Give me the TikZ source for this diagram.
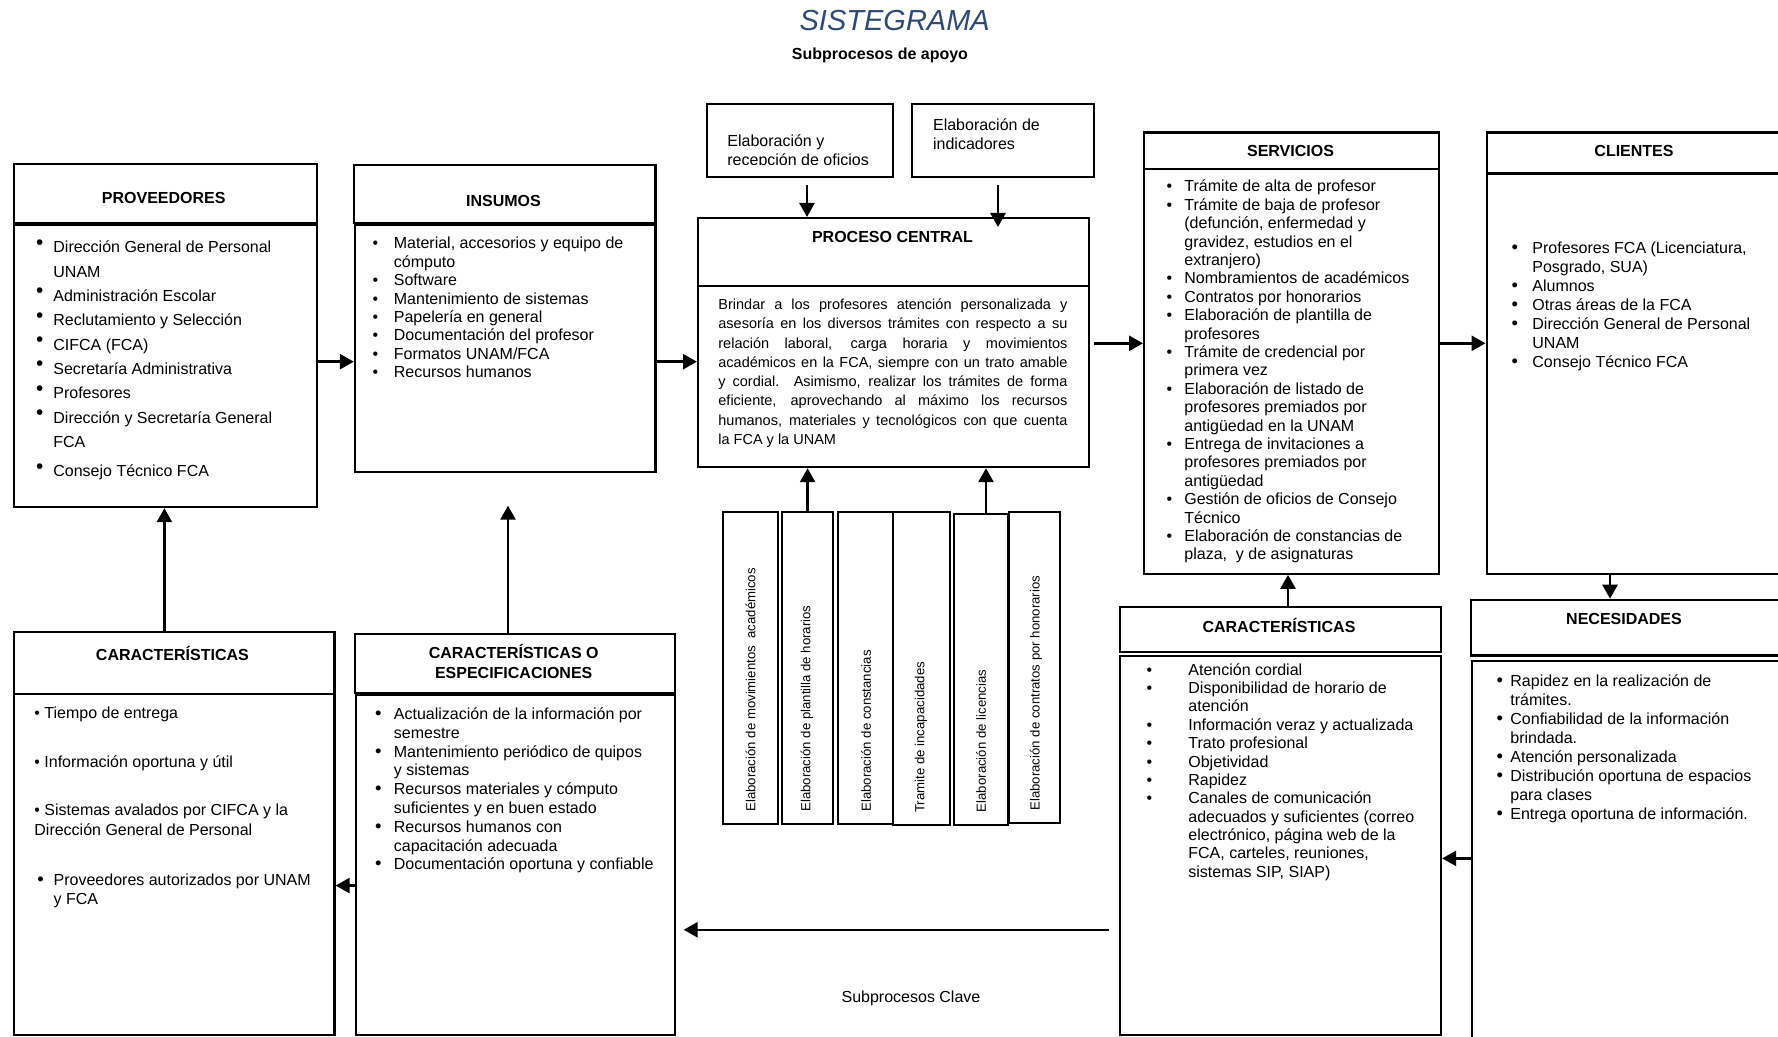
\documentclass[tikz,border=0pt]{standalone}
\usepackage{fontspec}
\setmainfont{Liberation Sans}
\usepackage{graphicx}
\usetikzlibrary{arrows.meta}
\definecolor{titleblue}{RGB}{47,74,118}

% bullet lists with a hanging indent: \B starts an item, \C continues it
\newlength\bi
\newcommand\bsym{\textbullet}
\newcommand\B{\makebox[\bi][l]{\bsym}}
\newcommand\C{\hspace*{\bi}}
% a framed box given by its top-left corner, width and height (in px units)
\newcommand\bx[5]{\node[box, minimum width={0.5pt*(#4)}, minimum height={0.5pt*(#5)}] (#1) at (#2,#3) {};}

\begin{document}
\begin{tikzpicture}[x=0.5pt, y=-0.5pt,
  box/.style={draw, line width=1.1pt, rectangle, inner sep=0pt, anchor=north west},
  arr/.style={line width=1.3pt, -{Triangle[length=7pt,width=7.5pt]}},
  hdr/.style={inner sep=0pt, font=\bfseries\fontsize{8}{9.65}\selectfont, align=center},
  txt/.style={inner sep=0pt, anchor=base west},
  vtxt/.style={inner sep=0pt, anchor=west, rotate=90, font=\fontsize{6.6}{8}\selectfont}]

\useasboundingbox (0,0) rectangle (1778,1037);
\fill[white] (0,0) rectangle (1778,1037);
\clip (0,0) rectangle (1778,1037);

% ---- titles ----
\node[inner sep=0pt, font=\itshape\fontsize{14.5}{17}\selectfont, text=titleblue] (title) at (894.7,20.4) {SISTEGRAMA};
\node[inner sep=0pt, font=\bfseries\fontsize{8}{9.6}\selectfont] (apoyo) at (880,55.6) {Subprocesos de apoyo};
\node[inner sep=0pt, font=\fontsize{8}{9.6}\selectfont] (clave) at (911,998) {Subprocesos Clave};

% ---- frames ----
\bx{provh}{12.5}{163}{303}{59}
\bx{provb}{12.5}{224}{303}{282}
\bx{insh}{352.6}{164}{301.7}{58}
\bx{insb}{353.8}{224}{300.5}{247}
\bx{pch}{697}{217}{391}{68}
\bx{pcb}{697}{285}{391}{181}
\bx{top1}{705.7}{103}{186.3}{73}
\bx{top2}{911}{103}{182}{73}
\bx{v1}{722}{511}{55}{312}
\bx{v2}{781}{511}{51}{312}
\bx{v3}{837}{511}{55}{312}
\bx{v4}{892}{511}{57}{313}
\bx{v5}{953}{513}{54}{311}
\bx{v6}{1008}{511}{51}{311}
\bx{servh}{1143}{131.5}{295}{36.5}
\bx{servb}{1143}{168}{295}{404.6}
\bx{clih}{1485.5}{131.5}{305}{40.9}
\bx{clib}{1485.5}{172.4}{305}{400.2}
\bx{nech}{1469.6}{598.7}{320}{55.6}
\bx{necb}{1470.7}{660}{320}{390}
\bx{rch}{1119}{605.5}{321}{45.5}
\bx{rcb}{1119}{654.5}{321}{379.5}
\bx{ceh}{353.8}{632.7}{319.7}{59}
\bx{ceb}{354.5}{694}{319}{340}
\bx{lch}{12.5}{630.5}{320.9}{62.3}
\bx{lcb}{12.5}{692.8}{320.9}{341.2}

% ---- headings ----
\node[hdr] (provt) at (163.7,198.4) {PROVEEDORES};
\node[hdr] (inst) at (503.5,200.7) {INSUMOS};
\node[hdr] (pct) at (892.5,236.7) {PROCESO CENTRAL};
\node[hdr] (servt) at (1290.5,150.8) {SERVICIOS};
\node[hdr] (clit) at (1634,150.8) {CLIENTES};
\node[hdr] (nect) at (1624,619) {NECESIDADES};
\node[hdr] (rct) at (1279,625) {CARACTERÍSTICAS};
\node[hdr] (cet) at (513.7,661.6) {CARACTERÍSTICAS O\\ESPECIFICACIONES};
\node[hdr] (lct) at (172.4,653) {CARACTERÍSTICAS};

% ---- lists ----
\node[txt, font=\fontsize{8}{12.15}\selectfont] (provx) at (35.7,253) {\parbox[t]{140pt}{%
\setlength\bi{8.65pt}\renewcommand\bsym{\raisebox{1.8pt}{\scalebox{1.3}{\textbullet}}}%
\B Dirección General de Personal\\
\C UNAM\\
\B Administración Escolar\\
\B Reclutamiento y Selección\\
\B CIFCA (FCA)\\
\B Secretaría Administrativa\\
\B Profesores\\
\B Dirección y Secretaría General\\
\C FCA\\[2.65pt]
\B Consejo Técnico FCA}};

\node[txt, font=\fontsize{8}{9.2}\selectfont] (insx) at (372.2,249) {\parbox[t]{145pt}{%
\setlength\bi{10.65pt}%
\B Material, accesorios y equipo de\\
\C cómputo\\
\B Software\\
\B Mantenimiento de sistemas\\
\B Papelería en general\\
\B Documentación del profesor\\
\B Formatos UNAM/FCA\\
\B Recursos humanos}};

\node[txt, font=\fontsize{7.25}{9.65}\selectfont] (pcx) at (718,309.5) {\parbox[t]{174.5pt}{%
\makebox[174.5pt][s]{Brindar a los profesores atención personalizada y}\\
\makebox[174.5pt][s]{asesoría en los diversos trámites con respecto a su}\\
\makebox[174.5pt][s]{relación laboral, carga horaria y movimientos}\\
\makebox[174.5pt][s]{académicos en la FCA, siempre con un trato amable}\\
\makebox[174.5pt][s]{y cordial. Asimismo, realizar los trámites de forma}\\
\makebox[174.5pt][s]{eficiente, aprovechando al máximo los recursos}\\
\makebox[174.5pt][s]{humanos, materiales y tecnológicos con que cuenta}\\
la FCA y la UNAM}};

\begin{scope}
  \clip (705.7,103) rectangle (892,165);
  \node[txt, font=\fontsize{8}{9.65}\selectfont] (top1x) at (727,146.7) {\parbox[t]{88pt}{Elaboración y\\recepción de oficios}};
\end{scope}
\node[txt, font=\fontsize{8}{9.5}\selectfont] (top2x) at (932.7,131) {\parbox[t]{80pt}{Elaboración de\\indicadores}};

\node[txt, font=\fontsize{8}{9.2}\selectfont] (servx) at (1166.2,192) {\parbox[t]{140pt}{%
\setlength\bi{8.9pt}%
\B Trámite de alta de profesor\\
\B Trámite de baja de profesor\\
\C (defunción, enfermedad y\\
\C gravidez, estudios en el\\
\C extranjero)\\
\B Nombramientos de académicos\\
\B Contratos por honorarios\\
\B Elaboración de plantilla de\\
\C profesores\\
\B Trámite de credencial por\\
\C primera vez\\
\B Elaboración de listado de\\
\C profesores premiados por\\
\C antigüedad en la UNAM\\
\B Entrega de invitaciones a\\
\C profesores premiados por\\
\C antigüedad\\
\B Gestión de oficios de Consejo\\
\C Técnico\\
\B Elaboración de constancias de\\
\C plaza,\ \ y de asignaturas}};

\node[txt, font=\fontsize{8}{9.55}\selectfont] (clix) at (1511.2,253.3) {\parbox[t]{130pt}{%
\setlength\bi{10.4pt}\renewcommand\bsym{\scalebox{1.15}{\textbullet}}%
\B Profesores FCA (Licenciatura,\\
\C Posgrado, SUA)\\
\B Alumnos\\
\B Otras áreas de la FCA\\
\B Dirección General de Personal\\
\C UNAM\\
\B Consejo Técnico FCA}};

\node[txt, font=\fontsize{8}{9.5}\selectfont] (necx) at (1496.2,686.5) {\parbox[t]{135pt}{%
\setlength\bi{6.9pt}\renewcommand\bsym{\scalebox{1.15}{\textbullet}}%
\B Rapidez en la realización de\\
\C trámites.\\
\B Confiabilidad de la información\\
\C brindada.\\
\B Atención personalizada\\
\B Distribución oportuna de espacios\\
\C para clases\\
\B Entrega oportuna de información.}};

\node[txt, font=\fontsize{8}{9.2}\selectfont] (rcx) at (1146.2,675) {\parbox[t]{145pt}{%
\setlength\bi{20.9pt}%
\B Atención cordial\\
\B Disponibilidad de horario de\\
\C atención\\
\B Información veraz y actualizada\\
\B Trato profesional\\
\B Objetividad\\
\B Rapidez\\
\B Canales de comunicación\\
\C adecuados y suficientes (correo\\
\C electrónico, página web de la\\
\C FCA, carteles, reuniones,\\
\C sistemas SIP, SIAP)}};

\node[txt, font=\fontsize{8}{9.4}\selectfont] (cex) at (374.8,719.4) {\parbox[t]{145pt}{%
\setlength\bi{9.35pt}\renewcommand\bsym{\scalebox{1.15}{\textbullet}}%
\B Actualización de la información por\\
\C semestre\\
\B Mantenimiento periódico de quipos\\
\C y sistemas\\
\B Recursos materiales y cómputo\\
\C suficientes y en buen estado\\
\B Recursos humanos con\\
\C capacitación adecuada\\
\B Documentación oportuna y confiable}};

\node[txt, font=\fontsize{8}{9.6}\selectfont] (lcx) at (34,718) {\parbox[t]{150pt}{%
\setlength\bi{8.2pt}\renewcommand\bsym{\scalebox{1.15}{\textbullet}}%
\textbullet\ Tiempo de entrega\\[14.9pt]
\textbullet\ Información oportuna y útil\\[14.8pt]
\textbullet\ Sistemas avalados por CIFCA y la\\
Dirección General de Personal\\[15.4pt]
\hspace*{1.45pt}\B Proveedores autorizados por UNAM\\
\hspace*{1.45pt}\C y FCA}};

% ---- vertical sub-process labels ----
\node[vtxt] (v1x) at (750.5,812) {Elaboración de movimientos~ académicos};
\begin{scope}
  \clip (781,511) rectangle (812,823);
  \node[vtxt] (v2x) at (807,812) {Elaboración de plantilla de horarios};
\end{scope}
\node[vtxt] (v3x) at (866,812) {Elaboración de constancias};
\node[vtxt] (v4x) at (921,813) {Tramite de incapacidades};
\node[vtxt] (v5x) at (981,812.5) {Elaboración de licencias};
\begin{scope}
  \clip (1008,511) rectangle (1041.5,822);
  \node[vtxt] (v6x) at (1036,811) {Elaboración de contratos por honorarios};
\end{scope}

% ---- connector levels ----
\coordinate (r1) at (0,361.7);
\coordinate (r2) at (0,343.3);
\coordinate (r10) at (0,858.4);
\coordinate (r12) at (0,929.8);
\coordinate (r14) at (0,885.6);
\coordinate (c3) at (807,0);
\coordinate (c4) at (998,0);
\coordinate (c6) at (986,0);
\coordinate (c9) at (1610,0);
\coordinate (c11) at (1288,0);
\coordinate (c13) at (508,0);
\coordinate (c15) at (164.4,0);
\coordinate (insend) at (508,505.7);

% ---- connectors ----
\draw[arr] (provb.east |- r1) -- (insb.west |- r1);
\draw[arr] (insb.east |- r1) -- (pcb.west |- r1);
\draw[arr, shorten <=3.5pt] (top1.south -| c3) -- (pch.north -| c3);
\draw[arr, shorten <=3.5pt, shorten >=-5pt] (top2.south -| c4) -- (pch.north -| c4);
\draw[arr] (v2.north) -- (pcb.south -| v2.north);
\draw[arr] (v5.north -| c6) -- (pcb.south -| c6);
\draw[arr, shorten <=1.8pt] (pcb.east |- r2) -- (servb.west |- r2);
\draw[arr] (servb.east |- r2) -- (clib.west |- r2);
\draw[arr] (clib.south -| c9) -- (nech.north -| c9);
\draw[arr] (necb.west |- r10) -- (rcb.east |- r10);
\draw[arr] (rch.north -| c11) -- (servb.south -| c11);
\draw[arr, shorten <=5pt, shorten >=4pt] (rcb.west |- r12) -- (ceb.east |- r12);
\draw[arr] (ceh.north -| c13) -- (insend);
\draw[arr] (ceb.west |- r14) -- (lcb.east |- r14);
\draw[arr] (lch.north -| c15) -- (provb.south -| c15);
\end{tikzpicture}
\end{document}
